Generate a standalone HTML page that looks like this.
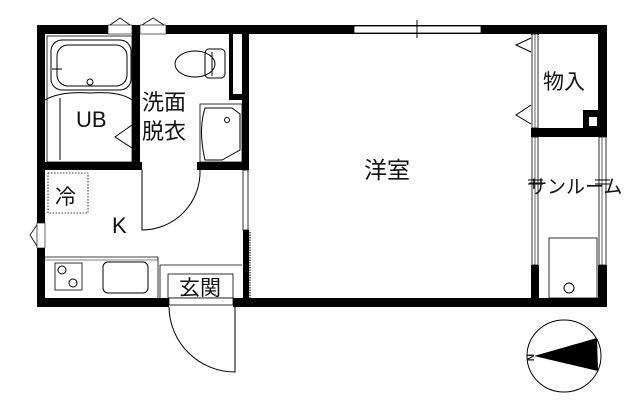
<!DOCTYPE html>
<html><head><meta charset="utf-8"><style>
html,body{margin:0;padding:0;background:#fff;}
svg{display:block;}
text{font-family:"Liberation Sans","Noto Sans CJK JP",sans-serif;fill:#111;}
</style></head><body>
<svg width="640" height="417" viewBox="0 0 640 417" xmlns="http://www.w3.org/2000/svg">
<rect width="640" height="417" fill="#fff"/>
<g fill="#000">
<rect x="37" y="25" width="570" height="9"/>
<rect x="37" y="25" width="8" height="282"/>
<rect x="598" y="25" width="9" height="112"/>
<rect x="598" y="265" width="9" height="42"/>
<rect x="37" y="298" width="132" height="9"/>
<rect x="233" y="298" width="374" height="9"/>
<rect x="132" y="25" width="8" height="145"/>
<rect x="37" y="162" width="105" height="8"/>
<rect x="197" y="162" width="52" height="8"/>
<rect x="229" y="25" width="6" height="75"/>
<rect x="242" y="25" width="7" height="145"/>
<rect x="229" y="94" width="20" height="6"/>
<rect x="243" y="230" width="6" height="70"/>
<rect x="531" y="25" width="8" height="10"/>
<rect x="531" y="128" width="76" height="9"/>
<rect x="531" y="265" width="8" height="42"/>
<rect x="583" y="110" width="20" height="20"/>
</g>
<rect x="589" y="117" width="8" height="9" fill="#fff"/>
<rect x="354" y="26" width="127" height="7" fill="#fff" stroke="#000" stroke-width="0.8"/>
<line x1="417" y1="20" x2="417" y2="38" stroke="#000" stroke-width="1"/>
<rect x="108" y="25" width="24" height="9" fill="#fff" stroke="#000" stroke-width="0.6"/>
<rect x="140" y="25" width="26" height="9" fill="#fff" stroke="#000" stroke-width="0.6"/>
<path d="M110 25 L120 18 L130 25" fill="none" stroke="#000" stroke-width="0.8"/>
<path d="M142 25 L153 18 L164 25" fill="none" stroke="#000" stroke-width="0.8"/>
<rect x="233" y="34" width="8" height="60" fill="#fff"/>
<rect x="37" y="223" width="8" height="25" fill="#fff" stroke="#000" stroke-width="0.6"/>
<path d="M37 225 L30 235 L37 246" fill="none" stroke="#000" stroke-width="0.8"/>
<g fill="#fff" stroke="#000" stroke-width="0.8">
<rect x="532" y="137" width="6" height="128"/>
<rect x="599" y="137" width="7" height="128"/>
<rect x="532" y="34" width="6" height="94"/>
<rect x="243" y="170" width="5" height="60"/>
</g>
<line x1="535" y1="137" x2="535" y2="265" stroke="#000" stroke-width="0.6"/>
<line x1="602" y1="137" x2="602" y2="265" stroke="#000" stroke-width="0.6"/>
<line x1="535" y1="34" x2="535" y2="128" stroke="#000" stroke-width="0.6"/>
<line x1="250" y1="232" x2="250" y2="298" stroke="#000" stroke-width="1" stroke-dasharray="1.5,1"/>
<g fill="none" stroke="#000" stroke-width="1">
<path d="M531 38 L516 45 L531 52"/>
<path d="M531 105 L516 115 L531 124"/>
<path d="M132 125 L115 137 L132 148"/>
<line x1="528" y1="180" x2="543" y2="180"/><line x1="528" y1="184" x2="543" y2="184"/>
<line x1="595" y1="180" x2="610" y2="180"/><line x1="595" y1="184" x2="610" y2="184"/>
<rect x="47" y="36" width="85" height="126" stroke-width="0.8"/>
<rect x="51" y="40" width="80" height="50" rx="11"/>
<rect x="57" y="45" width="70" height="41" rx="11"/>
<circle cx="90" cy="82" r="3"/>
<path d="M45 100 Q60 91 90 93 Q120 91 132 100"/>
<line x1="60" y1="98" x2="60" y2="160"/>
<line x1="52" y1="69" x2="62" y2="69"/>
<ellipse cx="195" cy="64" rx="20" ry="13"/>
<rect x="205" y="49" width="20" height="29" rx="4"/>
<line x1="212" y1="52" x2="212" y2="76"/>
<rect x="200" y="104" width="42" height="58" stroke-width="0.8"/>
<path d="M205 108 L232 108 L240 114 L240 150 L222 160 L205 160 Q198 130 205 108Z"/>
<circle cx="227" cy="120" r="2.5"/>
<path d="M142 170 L142 230 A58 58 0 0 0 200 170"/>
<rect x="48" y="173" width="40" height="40" stroke-dasharray="1.5,1.5" stroke-width="0.8"/>
<line x1="45" y1="257" x2="158" y2="257" stroke-width="0.8"/>
<line x1="158" y1="257" x2="158" y2="298" stroke-width="0.8"/>
<line x1="45" y1="260" x2="158" y2="260" stroke-width="0.6"/>
<rect x="55" y="263" width="27" height="27" stroke-width="0.8"/>
<circle cx="62" cy="270" r="4"/><circle cx="73" cy="283" r="4"/>
<rect x="103" y="262" width="45" height="31" rx="5"/>
<polyline points="160,298 160,265 242,265" stroke-width="0.8"/>
<rect x="168" y="274" width="65" height="24" stroke-width="0.8"/>
<rect x="169" y="298" width="64" height="7" fill="#fff" stroke-width="0.8"/>
<path d="M235 307 L235 372 A66 66 0 0 1 169 307"/>
<rect x="549" y="238" width="48" height="60" stroke-width="0.8"/>
<circle cx="569" cy="288" r="5"/>
<ellipse cx="564" cy="356" rx="37" ry="36"/>
</g>
<path d="M534 356 L597 338 L598 371 Z" fill="#000"/>
<text x="528" y="361" font-size="10" font-weight="bold" transform="rotate(90 531 357)">N</text>
<text x="76" y="127" font-size="22">UB</text>
<text x="142" y="110" font-size="22">洗面</text>
<text x="142" y="139" font-size="22">脱衣</text>
<text x="364" y="178" font-size="23">洋室</text>
<text x="543" y="89" font-size="21">物入</text>
<text x="528" y="193" font-size="19">サンルーム</text>
<text x="55" y="204" font-size="21">冷</text>
<text x="112" y="233" font-size="22">K</text>
<text x="179" y="295" font-size="21">玄関</text>
</svg>
</body></html>
